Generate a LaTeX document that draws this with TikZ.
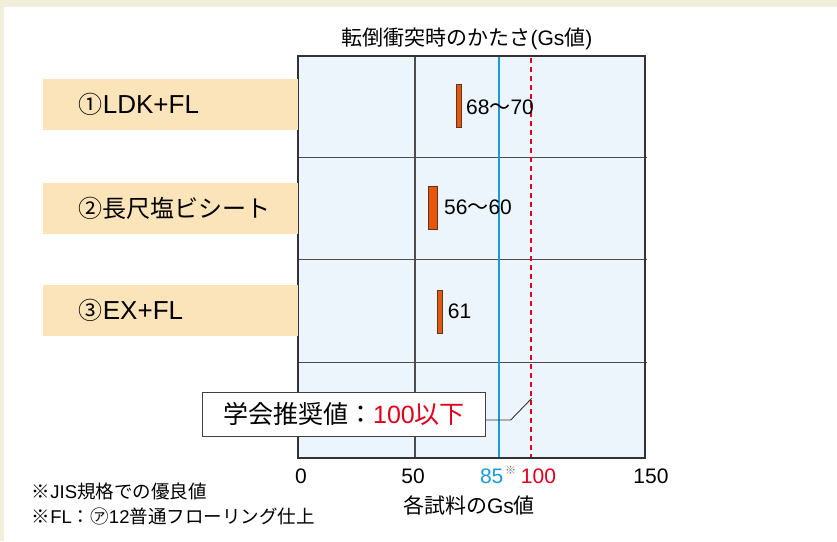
\documentclass[tikz,border=0pt]{standalone}
\usepackage{fontspec}
\setmainfont{Liberation Sans}
\newfontfamily\jp{Noto Sans CJK JP}
\usepackage{xcolor}
\usepackage{tikz}
\definecolor{pagebg}{HTML}{F1EEDA}
\definecolor{labelbg}{HTML}{FCE4BA}
\definecolor{plotbg}{HTML}{EDF5FC}
\definecolor{barfill}{HTML}{E8560C}
\definecolor{barline}{HTML}{5B3522}
\definecolor{jisblue}{HTML}{1A9BD7}
\definecolor{limitred}{HTML}{E0001B}

\begin{document}
\begin{tikzpicture}[x=1pt,y=-1pt,
  caselabel/.style={fill=labelbg,anchor=west,minimum height=51pt,text width=183pt,
    inner xsep=36pt,inner ysep=0pt,align=left,font=\fontsize{24}{28}\selectfont},
  ticklabel/.style={font=\fontsize{21}{24}\selectfont},
  footnote/.style={anchor=west,inner sep=0pt,font=\fontsize{18.5}{21}\selectfont},
  gsbar/.style={fill=barfill,draw=barline,line width=0.8pt}]
\useasboundingbox (0,0) rectangle (837,541);
\fill[pagebg] (0,0) rectangle (837,541);
\fill[white] (4,7) rectangle (837,541);
% plot area
\fill[plotbg] (298,56) rectangle (645,458);
\draw[gray!60!black,line width=1.2pt] (415,56) -- (415,458);
\foreach \y in {157,259,362}
  \draw[black!70,line width=1pt] (298,\y) -- (647,\y);
\draw[draw=jisblue,line width=1.1pt] (499,56) -- (499,458);
\draw[draw=limitred,line width=1.1pt,dash pattern=on 5pt off 4pt] (531,58) -- (531,458);
\draw[black!80,line width=1.4pt] (298,56) rectangle (645,458);
% bars
\draw[gsbar] (456.7,84.3) rectangle (461.7,127.3);
\draw[gsbar] (428.3,186) rectangle (437.7,229.3);
\draw[gsbar] (437.3,290) rectangle (442.3,333.3);
\node[ticklabel,anchor=west,inner sep=0pt] (val1) at (466,107) {68{\jp 〜}70};
\node[ticklabel,anchor=west,inner sep=0pt] (val2) at (444,207) {56{\jp 〜}60};
\node[ticklabel,anchor=west,inner sep=0pt] (val3) at (447.7,311) {61};
% samples
\node[caselabel] (case1) at (42.7,104.7) {{\jp ①}{\fontsize{26}{28}\selectfont LDK+FL}};
\node[caselabel] (case2) at (42.7,208.3) {\jp ②長尺塩ビシート};
\node[caselabel] (case3) at (42.7,310.3) {{\jp ③}{\fontsize{26}{28}\selectfont EX+FL}};
% recommended value
\node[draw=black!75,fill=white,line width=0.9pt,minimum width=282.6pt,minimum height=43.3pt,
  inner sep=0pt,font=\fontsize{25}{28}\selectfont] (advice) at (344,414.3)
  {{\jp 学会推奨値：}\textcolor{limitred}{100{\jp 以下}}};
\coordinate (knee) at (510.7,420);
\coordinate (limit) at (531.7,398.3);
\draw[black!80,line width=0.9pt] (advice.east |- knee) -- (knee) -- (limit);
% axis
\node[ticklabel] (tick0) at (301,476) {0};
\node[ticklabel] (tick50) at (413,476) {50};
\node[ticklabel,text=jisblue] (tick85) at (491.7,476) {85};
\node[font=\fontsize{11}{12}\selectfont,text=black!60,inner sep=0pt] (jismark) at (510.5,470) {\jp ※};
\node[ticklabel,text=limitred] (tick100) at (538.5,476) {100};
\node[ticklabel] (tick150) at (651,476) {150};
\node[ticklabel] (xtitle) at (469,505) {{\jp 各試料の}Gs{\jp 値}};
\node[ticklabel] (title) at (467,38.5) {{\jp 転倒衝突時のかたさ}(Gs{\jp 値})};
% notes
\node[footnote] (note1) at (31.7,491.7) {{\jp ※}JIS{\jp 規格での優良値}};
\node[footnote] (note2) at (31.7,516.7) {{\jp ※}FL{\jp ：㋐}12{\jp 普通フローリング仕上}};
\end{tikzpicture}
\end{document}
